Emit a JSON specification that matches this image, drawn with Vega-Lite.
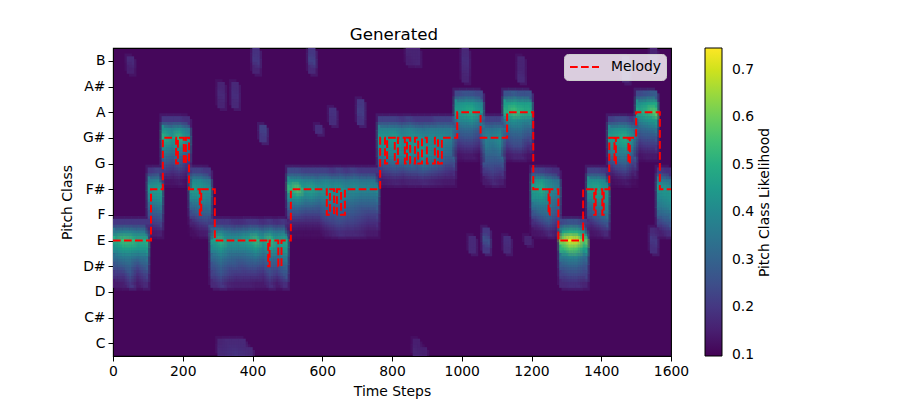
{"$schema":"https://vega.github.io/schema/vega-lite/v6.json","width":558,"height":308,"autosize":"none","padding":{"left":113,"top":48,"right":229,"bottom":44},"background":"white",
"title":{"text":"Generated","font":"DejaVu Sans","fontSize":16.67,"fontWeight":"normal","color":"black","offset":4,"dx":2},
"config":{"font":"DejaVu Sans","view":{"fill":"#45075b","stroke":"black","strokeWidth":1.1},"axis":{"grid":false,"labelFont":"DejaVu Sans","labelFontSize":13.9,"titleFont":"DejaVu Sans","titleFontSize":13.9,"titleFontWeight":"normal","labelColor":"black","titleColor":"black","tickColor":"black","tickSize":5,"domain":false,"labelOverlap":false,"labelFlush":false,"labelBound":false}},
"datasets":{"cells":[
{"t":10,"p":4.67,"v":0.2},{"t":10,"p":4.33,"v":0.36},{"t":10,"p":4,"v":0.5},{"t":10,"p":3.67,"v":0.42},{"t":10,"p":3.33,"v":0.33},{"t":10,"p":3,"v":0.26},{"t":10,"p":2.67,"v":0.2},{"t":10,"p":2.33,"v":0.14},
{"t":30,"p":4.67,"v":0.2},{"t":30,"p":4.33,"v":0.38},{"t":30,"p":4,"v":0.55},{"t":30,"p":3.67,"v":0.46},{"t":30,"p":3.33,"v":0.36},{"t":30,"p":3,"v":0.28},{"t":30,"p":2.67,"v":0.2},{"t":30,"p":2.33,"v":0.15},
{"t":50,"p":4.67,"v":0.2},{"t":50,"p":4.33,"v":0.38},{"t":50,"p":4,"v":0.54},{"t":50,"p":3.67,"v":0.46},{"t":50,"p":3.33,"v":0.36},{"t":50,"p":3,"v":0.3},{"t":50,"p":2.67,"v":0.26},{"t":50,"p":2.33,"v":0.2},
{"t":70,"p":4.67,"v":0.2},{"t":70,"p":4.33,"v":0.36},{"t":70,"p":4,"v":0.5},{"t":70,"p":3.67,"v":0.44},{"t":70,"p":3.33,"v":0.33},{"t":70,"p":3,"v":0.24},{"t":70,"p":2.67,"v":0.18},{"t":70,"p":2.33,"v":0.14},
{"t":90,"p":4.67,"v":0.2},{"t":90,"p":4.33,"v":0.36},{"t":90,"p":4,"v":0.5},{"t":90,"p":3.67,"v":0.44},{"t":90,"p":3.33,"v":0.34},{"t":90,"p":3,"v":0.28},{"t":90,"p":2.67,"v":0.22},{"t":90,"p":2.33,"v":0.17},
{"t":110,"p":6.67,"v":0.2},{"t":110,"p":6.33,"v":0.36},{"t":110,"p":6,"v":0.44},{"t":110,"p":5.67,"v":0.4},{"t":110,"p":5.33,"v":0.32},{"t":110,"p":5,"v":0.26},{"t":110,"p":4.67,"v":0.2},{"t":110,"p":4.33,"v":0.14},
{"t":130,"p":6.67,"v":0.22},{"t":130,"p":6.33,"v":0.38},{"t":130,"p":6,"v":0.46},{"t":130,"p":5.67,"v":0.42},{"t":130,"p":5.33,"v":0.35},{"t":130,"p":5,"v":0.28},{"t":130,"p":4.67,"v":0.22},{"t":130,"p":4.33,"v":0.15},
{"t":150,"p":8.67,"v":0.2},{"t":150,"p":8.33,"v":0.42},{"t":150,"p":8,"v":0.5},{"t":150,"p":7.67,"v":0.42},{"t":150,"p":7.33,"v":0.34},{"t":150,"p":7,"v":0.27},{"t":150,"p":6.67,"v":0.2},{"t":150,"p":6.33,"v":0.13},
{"t":170,"p":8.67,"v":0.2},{"t":170,"p":8.33,"v":0.38},{"t":170,"p":8,"v":0.44},{"t":170,"p":7.67,"v":0.38},{"t":170,"p":7.33,"v":0.3},{"t":170,"p":7,"v":0.24},{"t":170,"p":6.67,"v":0.18},{"t":170,"p":6.33,"v":0.13},
{"t":190,"p":8.67,"v":0.2},{"t":190,"p":8.33,"v":0.42},{"t":190,"p":8,"v":0.52},{"t":190,"p":7.67,"v":0.44},{"t":190,"p":7.33,"v":0.34},{"t":190,"p":7,"v":0.28},{"t":190,"p":6.67,"v":0.2},{"t":190,"p":6.33,"v":0.14},
{"t":210,"p":8.67,"v":0.18},{"t":210,"p":8.33,"v":0.36},{"t":210,"p":8,"v":0.42},{"t":210,"p":7.67,"v":0.36},{"t":210,"p":7.33,"v":0.28},{"t":210,"p":7,"v":0.2},{"t":210,"p":6.67,"v":0.16},{"t":210,"p":6.33,"v":0.12},
{"t":230,"p":6.67,"v":0.22},{"t":230,"p":6.33,"v":0.4},{"t":230,"p":6,"v":0.46},{"t":230,"p":5.67,"v":0.4},{"t":230,"p":5.33,"v":0.32},{"t":230,"p":5,"v":0.24},{"t":230,"p":4.67,"v":0.16},{"t":230,"p":4.33,"v":0.12},
{"t":250,"p":6.67,"v":0.22},{"t":250,"p":6.33,"v":0.4},{"t":250,"p":6,"v":0.44},{"t":250,"p":5.67,"v":0.42},{"t":250,"p":5.33,"v":0.34},{"t":250,"p":5,"v":0.28},{"t":250,"p":4.67,"v":0.2},{"t":250,"p":4.33,"v":0.14},
{"t":270,"p":6.67,"v":0.2},{"t":270,"p":6.33,"v":0.36},{"t":270,"p":6,"v":0.42},{"t":270,"p":5.67,"v":0.38},{"t":270,"p":5.33,"v":0.34},{"t":270,"p":5,"v":0.28},{"t":270,"p":4.67,"v":0.22},{"t":270,"p":4.33,"v":0.15},
{"t":290,"p":4.67,"v":0.2},{"t":290,"p":4.33,"v":0.36},{"t":290,"p":4,"v":0.46},{"t":290,"p":3.67,"v":0.4},{"t":290,"p":3.33,"v":0.32},{"t":290,"p":3,"v":0.26},{"t":290,"p":2.67,"v":0.22},{"t":290,"p":2.33,"v":0.17},
{"t":310,"p":4.67,"v":0.2},{"t":310,"p":4.33,"v":0.38},{"t":310,"p":4,"v":0.52},{"t":310,"p":3.67,"v":0.44},{"t":310,"p":3.33,"v":0.36},{"t":310,"p":3,"v":0.3},{"t":310,"p":2.67,"v":0.26},{"t":310,"p":2.33,"v":0.2},
{"t":330,"p":4.67,"v":0.2},{"t":330,"p":4.33,"v":0.34},{"t":330,"p":4,"v":0.44},{"t":330,"p":3.67,"v":0.38},{"t":330,"p":3.33,"v":0.32},{"t":330,"p":3,"v":0.26},{"t":330,"p":2.67,"v":0.22},{"t":330,"p":2.33,"v":0.16},
{"t":350,"p":4.67,"v":0.18},{"t":350,"p":4.33,"v":0.32},{"t":350,"p":4,"v":0.44},{"t":350,"p":3.67,"v":0.38},{"t":350,"p":3.33,"v":0.3},{"t":350,"p":3,"v":0.26},{"t":350,"p":2.67,"v":0.2},{"t":350,"p":2.33,"v":0.15},
{"t":370,"p":4.67,"v":0.18},{"t":370,"p":4.33,"v":0.34},{"t":370,"p":4,"v":0.46},{"t":370,"p":3.67,"v":0.38},{"t":370,"p":3.33,"v":0.3},{"t":370,"p":3,"v":0.24},{"t":370,"p":2.67,"v":0.2},{"t":370,"p":2.33,"v":0.15},
{"t":390,"p":4.67,"v":0.2},{"t":390,"p":4.33,"v":0.36},{"t":390,"p":4,"v":0.48},{"t":390,"p":3.67,"v":0.4},{"t":390,"p":3.33,"v":0.32},{"t":390,"p":3,"v":0.26},{"t":390,"p":2.67,"v":0.2},{"t":390,"p":2.33,"v":0.15},
{"t":410,"p":4.67,"v":0.2},{"t":410,"p":4.33,"v":0.38},{"t":410,"p":4,"v":0.54},{"t":410,"p":3.67,"v":0.44},{"t":410,"p":3.33,"v":0.34},{"t":410,"p":3,"v":0.26},{"t":410,"p":2.67,"v":0.2},{"t":410,"p":2.33,"v":0.14},
{"t":430,"p":4.67,"v":0.18},{"t":430,"p":4.33,"v":0.34},{"t":430,"p":4,"v":0.46},{"t":430,"p":3.67,"v":0.38},{"t":430,"p":3.33,"v":0.3},{"t":430,"p":3,"v":0.24},{"t":430,"p":2.67,"v":0.18},{"t":430,"p":2.33,"v":0.14},
{"t":450,"p":4.67,"v":0.2},{"t":450,"p":4.33,"v":0.38},{"t":450,"p":4,"v":0.54},{"t":450,"p":3.67,"v":0.46},{"t":450,"p":3.33,"v":0.34},{"t":450,"p":3,"v":0.28},{"t":450,"p":2.67,"v":0.24},{"t":450,"p":2.33,"v":0.18},
{"t":470,"p":4.67,"v":0.18},{"t":470,"p":4.33,"v":0.34},{"t":470,"p":4,"v":0.46},{"t":470,"p":3.67,"v":0.4},{"t":470,"p":3.33,"v":0.32},{"t":470,"p":3,"v":0.26},{"t":470,"p":2.67,"v":0.2},{"t":470,"p":2.33,"v":0.14},
{"t":490,"p":4.67,"v":0.2},{"t":490,"p":4.33,"v":0.36},{"t":490,"p":4,"v":0.48},{"t":490,"p":3.67,"v":0.44},{"t":490,"p":3.33,"v":0.36},{"t":490,"p":3,"v":0.3},{"t":490,"p":2.67,"v":0.26},{"t":490,"p":2.33,"v":0.18},
{"t":510,"p":6.67,"v":0.24},{"t":510,"p":6.33,"v":0.42},{"t":510,"p":6,"v":0.52},{"t":510,"p":5.67,"v":0.42},{"t":510,"p":5.33,"v":0.32},{"t":510,"p":5,"v":0.24},{"t":510,"p":4.67,"v":0.16},{"t":510,"p":4.33,"v":0.12},
{"t":530,"p":6.67,"v":0.24},{"t":530,"p":6.33,"v":0.42},{"t":530,"p":6,"v":0.58},{"t":530,"p":5.67,"v":0.44},{"t":530,"p":5.33,"v":0.33},{"t":530,"p":5,"v":0.24},{"t":530,"p":4.67,"v":0.16},{"t":530,"p":4.33,"v":0.12},
{"t":550,"p":6.67,"v":0.22},{"t":550,"p":6.33,"v":0.38},{"t":550,"p":6,"v":0.46},{"t":550,"p":5.67,"v":0.38},{"t":550,"p":5.33,"v":0.3},{"t":550,"p":5,"v":0.22},{"t":550,"p":4.67,"v":0.16},{"t":550,"p":4.33,"v":0.12},
{"t":570,"p":6.67,"v":0.22},{"t":570,"p":6.33,"v":0.38},{"t":570,"p":6,"v":0.48},{"t":570,"p":5.67,"v":0.4},{"t":570,"p":5.33,"v":0.3},{"t":570,"p":5,"v":0.22},{"t":570,"p":4.67,"v":0.16},{"t":570,"p":4.33,"v":0.12},
{"t":590,"p":6.67,"v":0.22},{"t":590,"p":6.33,"v":0.36},{"t":590,"p":6,"v":0.44},{"t":590,"p":5.67,"v":0.36},{"t":590,"p":5.33,"v":0.28},{"t":590,"p":5,"v":0.22},{"t":590,"p":4.67,"v":0.16},{"t":590,"p":4.33,"v":0.12},
{"t":610,"p":6.67,"v":0.22},{"t":610,"p":6.33,"v":0.38},{"t":610,"p":6,"v":0.44},{"t":610,"p":5.67,"v":0.38},{"t":610,"p":5.33,"v":0.32},{"t":610,"p":5,"v":0.26},{"t":610,"p":4.67,"v":0.2},{"t":610,"p":4.33,"v":0.14},
{"t":630,"p":6.67,"v":0.2},{"t":630,"p":6.33,"v":0.36},{"t":630,"p":6,"v":0.42},{"t":630,"p":5.67,"v":0.38},{"t":630,"p":5.33,"v":0.32},{"t":630,"p":5,"v":0.26},{"t":630,"p":4.67,"v":0.22},{"t":630,"p":4.33,"v":0.16},
{"t":650,"p":6.67,"v":0.22},{"t":650,"p":6.33,"v":0.36},{"t":650,"p":6,"v":0.44},{"t":650,"p":5.67,"v":0.38},{"t":650,"p":5.33,"v":0.32},{"t":650,"p":5,"v":0.28},{"t":650,"p":4.67,"v":0.24},{"t":650,"p":4.33,"v":0.18},
{"t":670,"p":6.67,"v":0.2},{"t":670,"p":6.33,"v":0.34},{"t":670,"p":6,"v":0.4},{"t":670,"p":5.67,"v":0.36},{"t":670,"p":5.33,"v":0.3},{"t":670,"p":5,"v":0.26},{"t":670,"p":4.67,"v":0.22},{"t":670,"p":4.33,"v":0.17},
{"t":690,"p":6.67,"v":0.22},{"t":690,"p":6.33,"v":0.36},{"t":690,"p":6,"v":0.42},{"t":690,"p":5.67,"v":0.36},{"t":690,"p":5.33,"v":0.3},{"t":690,"p":5,"v":0.26},{"t":690,"p":4.67,"v":0.22},{"t":690,"p":4.33,"v":0.17},
{"t":710,"p":6.67,"v":0.2},{"t":710,"p":6.33,"v":0.34},{"t":710,"p":6,"v":0.4},{"t":710,"p":5.67,"v":0.34},{"t":710,"p":5.33,"v":0.28},{"t":710,"p":5,"v":0.24},{"t":710,"p":4.67,"v":0.2},{"t":710,"p":4.33,"v":0.16},
{"t":730,"p":6.67,"v":0.2},{"t":730,"p":6.33,"v":0.34},{"t":730,"p":6,"v":0.4},{"t":730,"p":5.67,"v":0.34},{"t":730,"p":5.33,"v":0.28},{"t":730,"p":5,"v":0.22},{"t":730,"p":4.67,"v":0.18},{"t":730,"p":4.33,"v":0.14},
{"t":750,"p":6.67,"v":0.2},{"t":750,"p":6.33,"v":0.34},{"t":750,"p":6,"v":0.4},{"t":750,"p":5.67,"v":0.34},{"t":750,"p":5.33,"v":0.28},{"t":750,"p":5,"v":0.22},{"t":750,"p":4.67,"v":0.18},{"t":750,"p":4.33,"v":0.14},
{"t":770,"p":8.67,"v":0.22},{"t":770,"p":8.33,"v":0.38},{"t":770,"p":8,"v":0.44},{"t":770,"p":7.67,"v":0.42},{"t":770,"p":7.33,"v":0.36},{"t":770,"p":7,"v":0.28},{"t":770,"p":6.67,"v":0.2},{"t":770,"p":6.33,"v":0.14},
{"t":790,"p":8.67,"v":0.22},{"t":790,"p":8.33,"v":0.38},{"t":790,"p":8,"v":0.44},{"t":790,"p":7.67,"v":0.42},{"t":790,"p":7.33,"v":0.38},{"t":790,"p":7,"v":0.3},{"t":790,"p":6.67,"v":0.22},{"t":790,"p":6.33,"v":0.15},
{"t":810,"p":8.67,"v":0.22},{"t":810,"p":8.33,"v":0.38},{"t":810,"p":8,"v":0.46},{"t":810,"p":7.67,"v":0.44},{"t":810,"p":7.33,"v":0.38},{"t":810,"p":7,"v":0.32},{"t":810,"p":6.67,"v":0.24},{"t":810,"p":6.33,"v":0.16},
{"t":830,"p":8.67,"v":0.2},{"t":830,"p":8.33,"v":0.36},{"t":830,"p":8,"v":0.4},{"t":830,"p":7.67,"v":0.4},{"t":830,"p":7.33,"v":0.38},{"t":830,"p":7,"v":0.32},{"t":830,"p":6.67,"v":0.22},{"t":830,"p":6.33,"v":0.15},
{"t":850,"p":8.67,"v":0.22},{"t":850,"p":8.33,"v":0.38},{"t":850,"p":8,"v":0.42},{"t":850,"p":7.67,"v":0.42},{"t":850,"p":7.33,"v":0.4},{"t":850,"p":7,"v":0.34},{"t":850,"p":6.67,"v":0.24},{"t":850,"p":6.33,"v":0.16},
{"t":870,"p":8.67,"v":0.2},{"t":870,"p":8.33,"v":0.36},{"t":870,"p":8,"v":0.42},{"t":870,"p":7.67,"v":0.42},{"t":870,"p":7.33,"v":0.36},{"t":870,"p":7,"v":0.3},{"t":870,"p":6.67,"v":0.24},{"t":870,"p":6.33,"v":0.16},
{"t":890,"p":8.67,"v":0.2},{"t":890,"p":8.33,"v":0.34},{"t":890,"p":8,"v":0.4},{"t":890,"p":7.67,"v":0.42},{"t":890,"p":7.33,"v":0.42},{"t":890,"p":7,"v":0.36},{"t":890,"p":6.67,"v":0.26},{"t":890,"p":6.33,"v":0.17},
{"t":910,"p":8.67,"v":0.2},{"t":910,"p":8.33,"v":0.36},{"t":910,"p":8,"v":0.4},{"t":910,"p":7.67,"v":0.4},{"t":910,"p":7.33,"v":0.38},{"t":910,"p":7,"v":0.32},{"t":910,"p":6.67,"v":0.24},{"t":910,"p":6.33,"v":0.16},
{"t":930,"p":8.67,"v":0.22},{"t":930,"p":8.33,"v":0.36},{"t":930,"p":8,"v":0.4},{"t":930,"p":7.67,"v":0.38},{"t":930,"p":7.33,"v":0.36},{"t":930,"p":7,"v":0.3},{"t":930,"p":6.67,"v":0.22},{"t":930,"p":6.33,"v":0.15},
{"t":950,"p":8.67,"v":0.22},{"t":950,"p":8.33,"v":0.36},{"t":950,"p":8,"v":0.4},{"t":950,"p":7.67,"v":0.36},{"t":950,"p":7.33,"v":0.32},{"t":950,"p":7,"v":0.26},{"t":950,"p":6.67,"v":0.2},{"t":950,"p":6.33,"v":0.14},
{"t":970,"p":8.67,"v":0.22},{"t":970,"p":8.33,"v":0.36},{"t":970,"p":8,"v":0.38},{"t":970,"p":7.67,"v":0.34},{"t":970,"p":7.33,"v":0.3},{"t":970,"p":7,"v":0.24},{"t":970,"p":6.67,"v":0.18},{"t":970,"p":6.33,"v":0.14},
{"t":990,"p":9.67,"v":0.24},{"t":990,"p":9.33,"v":0.42},{"t":990,"p":9,"v":0.46},{"t":990,"p":8.67,"v":0.38},{"t":990,"p":8.33,"v":0.3},{"t":990,"p":8,"v":0.24},{"t":990,"p":7.67,"v":0.18},{"t":990,"p":7.33,"v":0.13},
{"t":1010,"p":9.67,"v":0.26},{"t":1010,"p":9.33,"v":0.44},{"t":1010,"p":9,"v":0.48},{"t":1010,"p":8.67,"v":0.4},{"t":1010,"p":8.33,"v":0.32},{"t":1010,"p":8,"v":0.26},{"t":1010,"p":7.67,"v":0.2},{"t":1010,"p":7.33,"v":0.14},
{"t":1030,"p":9.67,"v":0.26},{"t":1030,"p":9.33,"v":0.44},{"t":1030,"p":9,"v":0.5},{"t":1030,"p":8.67,"v":0.42},{"t":1030,"p":8.33,"v":0.32},{"t":1030,"p":8,"v":0.26},{"t":1030,"p":7.67,"v":0.2},{"t":1030,"p":7.33,"v":0.14},
{"t":1050,"p":9.67,"v":0.24},{"t":1050,"p":9.33,"v":0.4},{"t":1050,"p":9,"v":0.44},{"t":1050,"p":8.67,"v":0.36},{"t":1050,"p":8.33,"v":0.28},{"t":1050,"p":8,"v":0.22},{"t":1050,"p":7.67,"v":0.17},{"t":1050,"p":7.33,"v":0.12},
{"t":1070,"p":8.67,"v":0.22},{"t":1070,"p":8.33,"v":0.34},{"t":1070,"p":8,"v":0.38},{"t":1070,"p":7.67,"v":0.36},{"t":1070,"p":7.33,"v":0.3},{"t":1070,"p":7,"v":0.26},{"t":1070,"p":6.67,"v":0.2},{"t":1070,"p":6.33,"v":0.14},
{"t":1090,"p":8.67,"v":0.22},{"t":1090,"p":8.33,"v":0.34},{"t":1090,"p":8,"v":0.38},{"t":1090,"p":7.67,"v":0.34},{"t":1090,"p":7.33,"v":0.3},{"t":1090,"p":7,"v":0.26},{"t":1090,"p":6.67,"v":0.22},{"t":1090,"p":6.33,"v":0.17},
{"t":1110,"p":8.67,"v":0.22},{"t":1110,"p":8.33,"v":0.36},{"t":1110,"p":8,"v":0.42},{"t":1110,"p":7.67,"v":0.38},{"t":1110,"p":7.33,"v":0.32},{"t":1110,"p":7,"v":0.26},{"t":1110,"p":6.67,"v":0.2},{"t":1110,"p":6.33,"v":0.15},
{"t":1130,"p":9.67,"v":0.26},{"t":1130,"p":9.33,"v":0.46},{"t":1130,"p":9,"v":0.5},{"t":1130,"p":8.67,"v":0.4},{"t":1130,"p":8.33,"v":0.32},{"t":1130,"p":8,"v":0.26},{"t":1130,"p":7.67,"v":0.2},{"t":1130,"p":7.33,"v":0.14},
{"t":1150,"p":9.67,"v":0.28},{"t":1150,"p":9.33,"v":0.48},{"t":1150,"p":9,"v":0.56},{"t":1150,"p":8.67,"v":0.42},{"t":1150,"p":8.33,"v":0.34},{"t":1150,"p":8,"v":0.28},{"t":1150,"p":7.67,"v":0.24},{"t":1150,"p":7.33,"v":0.16},
{"t":1170,"p":9.67,"v":0.26},{"t":1170,"p":9.33,"v":0.46},{"t":1170,"p":9,"v":0.52},{"t":1170,"p":8.67,"v":0.4},{"t":1170,"p":8.33,"v":0.34},{"t":1170,"p":8,"v":0.28},{"t":1170,"p":7.67,"v":0.24},{"t":1170,"p":7.33,"v":0.16},
{"t":1190,"p":9.67,"v":0.26},{"t":1190,"p":9.33,"v":0.46},{"t":1190,"p":9,"v":0.5},{"t":1190,"p":8.67,"v":0.38},{"t":1190,"p":8.33,"v":0.3},{"t":1190,"p":8,"v":0.24},{"t":1190,"p":7.67,"v":0.18},{"t":1190,"p":7.33,"v":0.13},
{"t":1210,"p":6.67,"v":0.22},{"t":1210,"p":6.33,"v":0.42},{"t":1210,"p":6,"v":0.46},{"t":1210,"p":5.67,"v":0.42},{"t":1210,"p":5.33,"v":0.34},{"t":1210,"p":5,"v":0.26},{"t":1210,"p":4.67,"v":0.18},{"t":1210,"p":4.33,"v":0.13},
{"t":1230,"p":6.67,"v":0.22},{"t":1230,"p":6.33,"v":0.44},{"t":1230,"p":6,"v":0.5},{"t":1230,"p":5.67,"v":0.44},{"t":1230,"p":5.33,"v":0.36},{"t":1230,"p":5,"v":0.3},{"t":1230,"p":4.67,"v":0.22},{"t":1230,"p":4.33,"v":0.14},
{"t":1250,"p":6.67,"v":0.2},{"t":1250,"p":6.33,"v":0.38},{"t":1250,"p":6,"v":0.42},{"t":1250,"p":5.67,"v":0.38},{"t":1250,"p":5.33,"v":0.36},{"t":1250,"p":5,"v":0.32},{"t":1250,"p":4.67,"v":0.26},{"t":1250,"p":4.33,"v":0.17},
{"t":1270,"p":6.67,"v":0.18},{"t":1270,"p":6.33,"v":0.34},{"t":1270,"p":6,"v":0.38},{"t":1270,"p":5.67,"v":0.34},{"t":1270,"p":5.33,"v":0.3},{"t":1270,"p":5,"v":0.26},{"t":1270,"p":4.67,"v":0.2},{"t":1270,"p":4.33,"v":0.14},
{"t":1290,"p":4.67,"v":0.24},{"t":1290,"p":4.33,"v":0.46},{"t":1290,"p":4,"v":0.64},{"t":1290,"p":3.67,"v":0.52},{"t":1290,"p":3.33,"v":0.36},{"t":1290,"p":3,"v":0.28},{"t":1290,"p":2.67,"v":0.22},{"t":1290,"p":2.33,"v":0.17},
{"t":1310,"p":4.67,"v":0.26},{"t":1310,"p":4.33,"v":0.5},{"t":1310,"p":4,"v":0.73},{"t":1310,"p":3.67,"v":0.58},{"t":1310,"p":3.33,"v":0.38},{"t":1310,"p":3,"v":0.3},{"t":1310,"p":2.67,"v":0.24},{"t":1310,"p":2.33,"v":0.18},
{"t":1330,"p":4.67,"v":0.26},{"t":1330,"p":4.33,"v":0.5},{"t":1330,"p":4,"v":0.72},{"t":1330,"p":3.67,"v":0.56},{"t":1330,"p":3.33,"v":0.38},{"t":1330,"p":3,"v":0.3},{"t":1330,"p":2.67,"v":0.24},{"t":1330,"p":2.33,"v":0.18},
{"t":1350,"p":4.67,"v":0.22},{"t":1350,"p":4.33,"v":0.42},{"t":1350,"p":4,"v":0.58},{"t":1350,"p":3.67,"v":0.46},{"t":1350,"p":3.33,"v":0.32},{"t":1350,"p":3,"v":0.26},{"t":1350,"p":2.67,"v":0.22},{"t":1350,"p":2.33,"v":0.16},
{"t":1370,"p":6.67,"v":0.22},{"t":1370,"p":6.33,"v":0.42},{"t":1370,"p":6,"v":0.46},{"t":1370,"p":5.67,"v":0.4},{"t":1370,"p":5.33,"v":0.32},{"t":1370,"p":5,"v":0.26},{"t":1370,"p":4.67,"v":0.18},{"t":1370,"p":4.33,"v":0.13},
{"t":1390,"p":6.67,"v":0.22},{"t":1390,"p":6.33,"v":0.42},{"t":1390,"p":6,"v":0.48},{"t":1390,"p":5.67,"v":0.44},{"t":1390,"p":5.33,"v":0.36},{"t":1390,"p":5,"v":0.3},{"t":1390,"p":4.67,"v":0.22},{"t":1390,"p":4.33,"v":0.14},
{"t":1410,"p":6.67,"v":0.2},{"t":1410,"p":6.33,"v":0.38},{"t":1410,"p":6,"v":0.44},{"t":1410,"p":5.67,"v":0.42},{"t":1410,"p":5.33,"v":0.38},{"t":1410,"p":5,"v":0.34},{"t":1410,"p":4.67,"v":0.26},{"t":1410,"p":4.33,"v":0.17},
{"t":1430,"p":8.67,"v":0.22},{"t":1430,"p":8.33,"v":0.4},{"t":1430,"p":8,"v":0.46},{"t":1430,"p":7.67,"v":0.42},{"t":1430,"p":7.33,"v":0.34},{"t":1430,"p":7,"v":0.24},{"t":1430,"p":6.67,"v":0.16},{"t":1430,"p":6.33,"v":0.12},
{"t":1450,"p":8.67,"v":0.24},{"t":1450,"p":8.33,"v":0.42},{"t":1450,"p":8,"v":0.48},{"t":1450,"p":7.67,"v":0.42},{"t":1450,"p":7.33,"v":0.36},{"t":1450,"p":7,"v":0.28},{"t":1450,"p":6.67,"v":0.2},{"t":1450,"p":6.33,"v":0.13},
{"t":1470,"p":8.67,"v":0.24},{"t":1470,"p":8.33,"v":0.42},{"t":1470,"p":8,"v":0.5},{"t":1470,"p":7.67,"v":0.46},{"t":1470,"p":7.33,"v":0.36},{"t":1470,"p":7,"v":0.3},{"t":1470,"p":6.67,"v":0.22},{"t":1470,"p":6.33,"v":0.14},
{"t":1490,"p":8.67,"v":0.2},{"t":1490,"p":8.33,"v":0.36},{"t":1490,"p":8,"v":0.42},{"t":1490,"p":7.67,"v":0.36},{"t":1490,"p":7.33,"v":0.28},{"t":1490,"p":7,"v":0.22},{"t":1490,"p":6.67,"v":0.16},{"t":1490,"p":6.33,"v":0.12},
{"t":1510,"p":9.67,"v":0.24},{"t":1510,"p":9.33,"v":0.42},{"t":1510,"p":9,"v":0.48},{"t":1510,"p":8.67,"v":0.38},{"t":1510,"p":8.33,"v":0.3},{"t":1510,"p":8,"v":0.24},{"t":1510,"p":7.67,"v":0.18},{"t":1510,"p":7.33,"v":0.13},
{"t":1530,"p":9.67,"v":0.26},{"t":1530,"p":9.33,"v":0.46},{"t":1530,"p":9,"v":0.52},{"t":1530,"p":8.67,"v":0.42},{"t":1530,"p":8.33,"v":0.32},{"t":1530,"p":8,"v":0.26},{"t":1530,"p":7.67,"v":0.2},{"t":1530,"p":7.33,"v":0.14},
{"t":1550,"p":9.67,"v":0.28},{"t":1550,"p":9.33,"v":0.48},{"t":1550,"p":9,"v":0.58},{"t":1550,"p":8.67,"v":0.44},{"t":1550,"p":8.33,"v":0.34},{"t":1550,"p":8,"v":0.26},{"t":1550,"p":7.67,"v":0.2},{"t":1550,"p":7.33,"v":0.14},
{"t":1570,"p":6.67,"v":0.2},{"t":1570,"p":6.33,"v":0.36},{"t":1570,"p":6,"v":0.44},{"t":1570,"p":5.67,"v":0.4},{"t":1570,"p":5.33,"v":0.36},{"t":1570,"p":5,"v":0.3},{"t":1570,"p":4.67,"v":0.22},{"t":1570,"p":4.33,"v":0.15},
{"t":1590,"p":6.67,"v":0.18},{"t":1590,"p":6.33,"v":0.34},{"t":1590,"p":6,"v":0.44},{"t":1590,"p":5.67,"v":0.42},{"t":1590,"p":5.33,"v":0.38},{"t":1590,"p":5,"v":0.32},{"t":1590,"p":4.67,"v":0.26},{"t":1590,"p":4.33,"v":0.18},
{"t":50,"p":11,"v":0.17},{"t":50,"p":10.67,"v":0.15},
{"t":410,"p":11.33,"v":0.19},{"t":410,"p":11,"v":0.2},{"t":410,"p":10.67,"v":0.16},
{"t":570,"p":11.33,"v":0.2},{"t":570,"p":11,"v":0.22},{"t":570,"p":10.67,"v":0.17},
{"t":310,"p":10,"v":0.16},{"t":310,"p":9.67,"v":0.17},{"t":310,"p":9.33,"v":0.16},{"t":350,"p":10,"v":0.17},{"t":350,"p":9.67,"v":0.18},{"t":350,"p":9.33,"v":0.17},
{"t":430,"p":8.33,"v":0.22},{"t":430,"p":8,"v":0.2},
{"t":590,"p":8.33,"v":0.18},{"t":630,"p":9,"v":0.19},{"t":630,"p":8.67,"v":0.18},{"t":710,"p":9.33,"v":0.2},{"t":710,"p":9,"v":0.21},{"t":710,"p":8.67,"v":0.19},
{"t":310,"p":-0.33,"v":0.17},{"t":310,"p":0,"v":0.16},{"t":330,"p":-0.33,"v":0.18},{"t":330,"p":0,"v":0.17},{"t":350,"p":-0.33,"v":0.19},{"t":350,"p":0,"v":0.17},{"t":370,"p":-0.33,"v":0.18},{"t":370,"p":0,"v":0.17},{"t":390,"p":-0.33,"v":0.17},
{"t":850,"p":11.33,"v":0.16},{"t":850,"p":11,"v":0.15},{"t":870,"p":11.33,"v":0.16},{"t":870,"p":11,"v":0.16},
{"t":1010,"p":11.33,"v":0.17},{"t":1010,"p":11,"v":0.18},{"t":1010,"p":10.67,"v":0.17},{"t":1010,"p":10.33,"v":0.16},
{"t":1170,"p":11,"v":0.16},{"t":1170,"p":10.67,"v":0.16},{"t":1170,"p":10.33,"v":0.17},
{"t":1030,"p":4,"v":0.17},{"t":1030,"p":3.67,"v":0.17},{"t":1070,"p":4.33,"v":0.2},{"t":1070,"p":4,"v":0.25},{"t":1070,"p":3.67,"v":0.2},{"t":1130,"p":4,"v":0.18},{"t":1130,"p":3.67,"v":0.17},{"t":1190,"p":4,"v":0.16},
{"t":1550,"p":4.33,"v":0.17},{"t":1550,"p":4,"v":0.2},{"t":1550,"p":3.67,"v":0.18},
{"t":1470,"p":11,"v":0.17},{"t":1470,"p":10.67,"v":0.18},{"t":1470,"p":10.33,"v":0.17},
{"t":1550,"p":11.33,"v":0.16},{"t":1550,"p":11,"v":0.17},{"t":1550,"p":10.67,"v":0.17},
{"t":870,"p":-0.33,"v":0.16},{"t":870,"p":0,"v":0.15},{"t":890,"p":-0.33,"v":0.15}
]},
"layer":[
{"data":{"name":"cells"},
"encoding":{
"x":{"field":"t","type":"quantitative","scale":{"domain":[0,1600],"nice":false},"axis":{"values":[0,200,400,600,800,1000,1200,1400,1600],"format":"d","title":"Time Steps","labelPadding":3,"titlePadding":7,"labelAngle":0}},
"y":{"field":"p","type":"quantitative","scale":{"domain":[-0.5,11.5],"nice":false,"zero":false},"axis":{"values":[0,1,2,3,4,5,6,7,8,9,10,11],"title":"Pitch Class","labelExpr":"['C','C#','D','D#','E','F','F#','G','G#','A','A#','B'][datum.value]","titlePadding":8,"labelPadding":3}},
"color":{"field":"v","type":"quantitative","scale":{"scheme":"viridis","domain":[0.097,0.746]},"legend":{"orient":"none","legendX":592,"legendY":0,"gradientLength":308,"gradientThickness":17,"gradientStrokeColor":"black","gradientStrokeWidth":1,"values":[0.1,0.2,0.3,0.4,0.5,0.6,0.7],"format":".1f","labelFont":"DejaVu Sans","labelFontSize":13.9,"labelColor":"black","labelOffset":10,"title":null}}
},
"layer":[
{"mark":{"type":"rect","width":7.4,"height":9,"clip":true}},
{"mark":{"type":"rect","width":7.4,"height":9,"clip":true,"fillOpacity":0.5,"xOffset":2.3,"yOffset":2.85}},
{"mark":{"type":"rect","width":7.4,"height":9,"clip":true,"fillOpacity":0.33,"xOffset":-2.3,"yOffset":-2.85}}
]},
{"data":{"values":[
{"t":0,"p":4},{"t":109,"p":6},{"t":143,"p":8},{"t":181,"p":7},{"t":186,"p":8},{"t":203,"p":7},{"t":209,"p":8},{"t":218,"p":6},{"t":249,"p":5},{"t":253,"p":6},{"t":292,"p":4},{"t":445,"p":3},{"t":449,"p":4},{"t":474,"p":3},{"t":483,"p":4},{"t":510,"p":6},{"t":613,"p":5},{"t":622,"p":6},{"t":634,"p":5},{"t":642,"p":6},{"t":654,"p":5},{"t":665,"p":6},{"t":766,"p":8},{"t":780,"p":7},{"t":786,"p":8},{"t":808,"p":7},{"t":817,"p":8},{"t":837,"p":7},{"t":843,"p":8},{"t":852,"p":7},{"t":866,"p":8},{"t":875,"p":7},{"t":886,"p":8},{"t":900,"p":7},{"t":923,"p":8},{"t":932,"p":7},{"t":943,"p":8},{"t":987,"p":9},{"t":1054,"p":8},{"t":1130,"p":9},{"t":1205,"p":6},{"t":1249,"p":5},{"t":1252,"p":6},{"t":1277,"p":4},{"t":1348,"p":6},{"t":1380,"p":5},{"t":1384,"p":6},{"t":1403,"p":5},{"t":1407,"p":6},{"t":1423,"p":8},{"t":1438,"p":7},{"t":1442,"p":8},{"t":1478,"p":7},{"t":1482,"p":8},{"t":1500,"p":9},{"t":1568,"p":6},{"t":1600,"p":6}
]},
"mark":{"type":"line","interpolate":"step-after","strokeWidth":2,"strokeDash":[7.7,3.3],"clip":true},
"encoding":{
"x":{"field":"t","type":"quantitative"},
"y":{"field":"p","type":"quantitative","axis":{"orient":"right","title":"Pitch Class Likelihood","values":[],"labels":false,"ticks":false,"titleAngle":270,"titleX":93,"titleY":154,"titleBaseline":"middle","titleAlign":"center"}},
"stroke":{"datum":"Melody","type":"nominal","scale":{"range":["#ff0000"]},"legend":{"orient":"none","legendX":451,"legendY":6,"title":null,"fillColor":"rgba(255,255,255,0.8)","strokeColor":"#cccccc","cornerRadius":4,"padding":5,"clipHeight":16,"symbolType":"stroke","symbolDash":[7.7,3.3],"symbolStrokeWidth":2,"symbolSize":841,"labelOffset":11,"labelFont":"DejaVu Sans","labelFontSize":13.9,"labelColor":"black"}}
}}
],
"resolve":{"axis":{"y":"independent"}}
}
